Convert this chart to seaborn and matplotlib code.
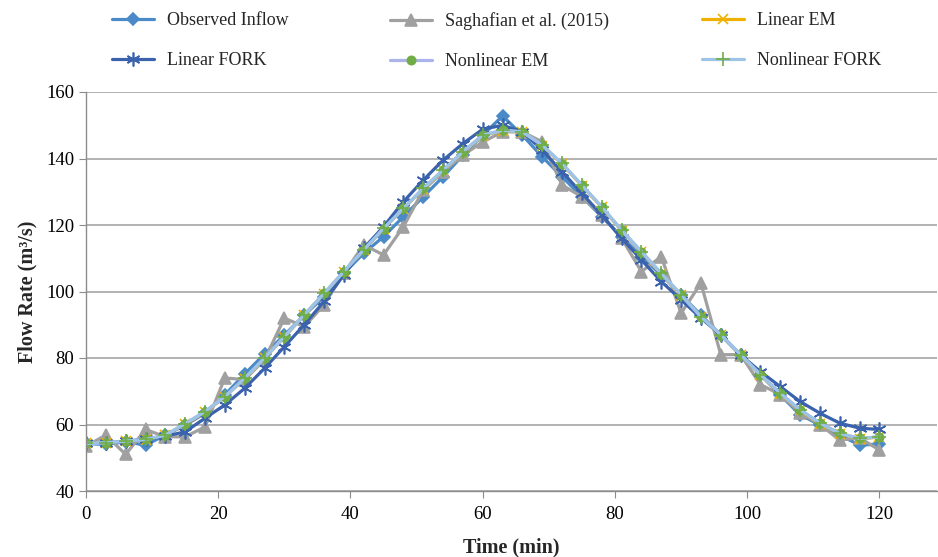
import numpy as np
import pandas as pd
import matplotlib
matplotlib.use("Agg")
import matplotlib.pyplot as plt
import seaborn as sns

# Tiempo (min), cada 3 minutos
time = list(range(0, 121, 3))

observed = [54.3, 54.0, 54.8, 53.8, 56.8, 59.8, 63.4, 68.9, 75.2, 81.2, 86.9,
            92.9, 98.4, 105.5, 111.5, 116.5, 122.5, 128.5, 134.5, 141.0, 147.0,
            152.8, 147.0, 140.5, 134.5, 128.5, 122.5, 116.5, 110.5, 105.0, 99.0,
            92.9, 86.9, 80.9, 74.9, 68.9, 62.9, 59.9, 56.8, 53.8, 54.1]

saghafian = [53.5, 56.8, 51.0, 58.5, 56.3, 56.3, 59.3, 74.0, 73.5, 79.5, 92.0,
             89.4, 96.0, 105.5, 114.0, 111.0, 119.5, 130.5, 136.0, 141.0, 145.0,
             148.0, 148.0, 145.0, 132.0, 128.5, 123.0, 116.0, 106.0, 110.5, 93.5,
             102.5, 81.0, 81.0, 72.0, 69.0, 63.5, 60.0, 55.3, 56.0, 52.3]

linear_fork = [54.3, 54.3, 55.0, 55.5, 56.5, 57.8, 61.9, 65.9, 70.9, 76.9, 83.4,
               90.0, 97.0, 105.0, 113.0, 119.5, 127.0, 133.5, 139.5, 144.5, 148.8,
               150.0, 148.0, 142.5, 136.0, 129.5, 123.0, 116.0, 109.5, 103.0, 97.5,
               92.0, 87.0, 80.9, 75.9, 71.4, 66.9, 63.4, 60.4, 58.9, 58.5]

nonlinear_fork = [54.3, 54.5, 55.0, 55.5, 56.8, 60.3, 63.9, 68.4, 73.9, 80.0, 86.4,
                  93.0, 99.4, 106.0, 112.5, 119.0, 125.0, 131.0, 136.5, 142.0, 147.0,
                  148.5, 148.0, 144.0, 138.5, 132.0, 125.5, 118.5, 112.0, 105.5, 99.0,
                  92.4, 87.0, 81.0, 75.0, 69.4, 64.4, 60.4, 57.3, 55.8, 56.3]

linear_em = [54.3, 54.5, 55.0, 55.4, 56.7, 60.1, 63.7, 68.3, 73.8, 79.9, 86.3,
             92.9, 99.3, 105.9, 112.4, 118.9, 124.9, 130.9, 136.4, 141.9, 146.9,
             148.4, 147.9, 143.9, 138.3, 131.8, 125.3, 118.3, 111.8, 105.3, 98.8,
             92.3, 86.9, 80.9, 74.9, 69.3, 64.3, 60.3, 57.2, 55.7, 56.2]

nonlinear_em = [54.3, 54.5, 55.0, 55.5, 56.8, 60.2, 63.8, 68.4, 73.9, 80.0, 86.4,
                92.9, 99.4, 106.0, 112.5, 118.9, 125.0, 131.0, 136.5, 142.0, 147.0,
                148.5, 148.0, 144.0, 138.4, 131.9, 125.4, 118.4, 111.9, 105.4, 98.9,
                92.4, 87.0, 81.0, 75.0, 69.4, 64.4, 60.4, 57.3, 55.8, 56.3]

series_names = ["Observed Inflow", "Saghafian et al. (2015)", "Linear EM",
                "Linear FORK", "Nonlinear EM", "Nonlinear FORK"]
series_values = [observed, saghafian, linear_em, linear_fork, nonlinear_em, nonlinear_fork]

# Estilos por serie: color de linea, marcador, color de marcador
estilos = {
    "Observed Inflow": dict(color="#4a8ac8", marker="D", mfc="#4a8ac8", ms=6),
    "Saghafian et al. (2015)": dict(color="#a0a0a0", marker="^", mfc="#a0a0a0", ms=8),
    "Linear EM": dict(color="#f0b000", marker="x", mfc="#f0b000", ms=7),
    "Linear FORK": dict(color="#3a62ad", marker=(6, 2, 0), mfc="#3a62ad", ms=10),
    "Nonlinear EM": dict(color="#aab4ea", marker="o", mfc="#70ad47", ms=6),
    "Nonlinear FORK": dict(color="#9dc3e6", marker="+", mfc="#70ad47", ms=10),
}

df = pd.DataFrame({
    "Time": np.tile(time, len(series_names)),
    "Flow": np.concatenate(series_values),
    "Serie": np.repeat(series_names, len(time)),
})

sns.set_style("white")
plt.rcParams["font.family"] = ["Liberation Serif", "DejaVu Serif"]

W, H = 938, 557
fig = plt.figure(figsize=(W / 100, H / 100), dpi=100)
ax = fig.add_axes([86 / W, 66 / H, (937 - 86) / W, (491 - 92) / H])

handles = {}
for name in series_names:
    st = estilos[name]
    sub = df[df["Serie"] == name]
    sns.lineplot(data=sub, x="Time", y="Flow", ax=ax, color=st["color"],
                 linewidth=2.3, marker=st["marker"], markersize=st["ms"],
                 markerfacecolor=st["mfc"], markeredgecolor=st["mfc"],
                 markeredgewidth=1.2, label=name, legend=False)
    handles[name] = ax.lines[-1]

ax.set_xlim(0, 128.7)
ax.set_ylim(40, 160)
ax.set_xticks(range(0, 121, 20))
ax.set_yticks(range(40, 161, 20))
ax.yaxis.grid(True, color="#a6a6a6", linewidth=1.2)
ax.xaxis.grid(False)
ax.set_axisbelow(True)
for s in ["top", "right"]:
    ax.spines[s].set_visible(False)
for s in ["left", "bottom"]:
    ax.spines[s].set_color("#8c8c8c")
    ax.spines[s].set_linewidth(1.0)
ax.tick_params(axis="both", labelsize=13.5, colors="black", length=5,
               color="#8c8c8c", direction="out", left=True, bottom=True)
ax.tick_params(axis="x", pad=6)

ax.set_xlabel("Time (min)", fontsize=14.5, fontweight="bold", labelpad=10)
ax.set_ylabel("Flow Rate (m³/s)", fontsize=14.5, fontweight="bold", labelpad=6)

# Leyenda: tres columnas de ancho fijo, dos filas
columnas = [["Observed Inflow", "Linear FORK"],
            ["Saghafian et al. (2015)", "Nonlinear EM"],
            ["Linear EM", "Nonlinear FORK"]]
col_x = [112, 390, 702]
for nombres, x0 in zip(columnas, col_x):
    fig.legend([handles[n] for n in nombres], nombres, loc="upper left",
               bbox_to_anchor=(x0 / W, 1 - 12 / H), frameon=False,
               fontsize=13, handlelength=2.35, handletextpad=0.7,
               labelspacing=1.3, borderpad=0, borderaxespad=0)

plt.savefig("out.png", dpi=100)
plt.close()
